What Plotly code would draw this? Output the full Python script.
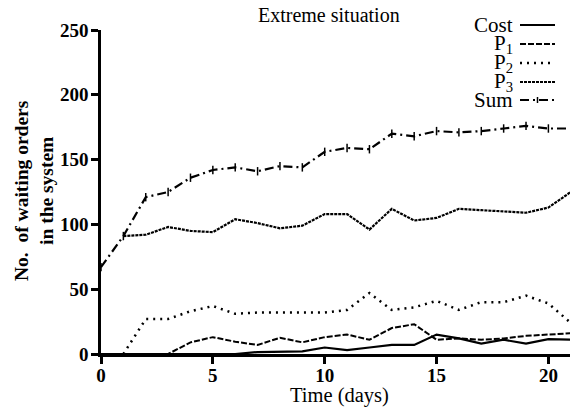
import plotly.graph_objects as go

days = list(range(22))
cost = [0, 0, 0, 0, 0, 0, 0, 1.5, 1.5, 2, 5, 3, 5, 7, 7, 15, 12, 8, 11, 8, 11.5, 11]
p1 = [0, 0, 0, 0, 9, 13, 9.5, 7, 12.5, 9, 13, 15, 11, 20, 23, 11, 12, 11, 12, 14, 15, 16]
p2 = [None, 0, 27, 27, 33, 37, 31, 32, 32, 32, 32, 34, 47, 34, 36, 41, 34, 40, 40, 45, 39, 24]
p3 = [None, 91, 92, 98, 95, 94, 104, 101, 97, 99, 108, 108, 96, 112, 103, 105, 112, 111, 110, 109, 113, 125]
total = [67, 91, 121, 125, 136, 142, 144, 141, 145, 144, 156, 159, 158, 170, 168, 172, 171, 172, 174, 176, 174, 174]

names = ["Cost", "P<sub>1</sub>", "P<sub>2</sub>", "P<sub>3</sub>", "Sum"]
series = [cost, p1, p2, p3, total]
dashes = ["solid", "6px,2px", "2px,5px", "3px,1px", "9px,4px,2px,4px"]
widths = [2.2, 2, 2.5, 2.2, 2.2]
x_ticks = [0, 5, 10, 15, 20]
y_ticks = [0, 50, 100, 150, 200, 250]

FONT = "Liberation Serif"
fig = go.Figure()
for name, vals, dash, w in zip(names, series, dashes, widths):
    mode = "lines+markers" if name == "Sum" else "lines"
    fig.add_trace(go.Scatter(
        x=days, y=vals, name=name, mode=mode,
        line=dict(color="black", width=w, dash=dash),
        marker=dict(symbol="line-ns", size=6, line=dict(color="black", width=1.5)),
        showlegend=False, connectgaps=False,
    ))

# page body has an 8px margin: figure is 570x405 so it fits the 578x413 window
FW, FH = 570, 405
L, R, T, B = 93, 5, 22, 59
W, H = FW - L - R, FH - T - B
OFF = 8
def px(xs):
    return (xs - OFF - L) / W
def py(ys):
    return (FH - B - (ys - OFF)) / H

row_y = [25, 44, 63, 82, 100]
for name, dash, w, yy in zip(names, dashes, widths, row_y):
    fig.add_annotation(x=px(515), y=py(yy), xref="paper", yref="paper", text=name,
                       showarrow=False, xanchor="right", yanchor="middle",
                       font=dict(family=FONT, size=21, color="black"))
    fig.add_shape(type="line", xref="paper", yref="paper",
                  x0=px(520), x1=px(555), y0=py(yy), y1=py(yy),
                  line=dict(color="black", width=w, dash=dash))
fig.add_shape(type="line", xref="paper", yref="paper",
              x0=px(537.5), x1=px(537.5), y0=py(row_y[-1] - 3), y1=py(row_y[-1] + 3),
              line=dict(color="black", width=1.5))

fig.add_annotation(x=px(329), y=py(15), xref="paper", yref="paper", text="Extreme situation",
                   showarrow=False, xanchor="center", yanchor="middle",
                   font=dict(family=FONT, size=20, color="black"))
fig.add_annotation(x=px(339), y=py(396), xref="paper", yref="paper", text="Time (days)",
                   showarrow=False, xanchor="center", yanchor="middle",
                   font=dict(family=FONT, size=20.5, color="black"))
fig.add_annotation(x=px(34), y=py(191), xref="paper", yref="paper",
                   text="<b>No.  of waiting orders<br>in the system</b>",
                   showarrow=False, xanchor="center", yanchor="middle", textangle=-90,
                   font=dict(family=FONT, size=19.5, color="black"))

fig.update_layout(
    width=FW, height=FH,
    margin=dict(l=L, r=R, t=T, b=B),
    paper_bgcolor="white", plot_bgcolor="white",
    font=dict(family=FONT, size=18, color="black"),
)
fig.update_xaxes(range=[0, 21.1], tickvals=x_ticks, ticktext=[f"<b>{v}</b>" for v in x_ticks],
                 showline=True, linecolor="black", linewidth=2.5,
                 ticks="outside", ticklen=7, tickwidth=2.5, tickcolor="black",
                 ticklabelstandoff=-5,
                 showgrid=False, zeroline=False, tickfont=dict(family=FONT, size=19))
fig.update_yaxes(range=[0, 250], tickvals=y_ticks, ticktext=[f"<b>{v}</b>" for v in y_ticks],
                 showline=True, linecolor="black", linewidth=2.5,
                 ticks="outside", ticklen=7, tickwidth=2.5, tickcolor="black",
                 ticklabelstandoff=-1,
                 showgrid=False, zeroline=False, tickfont=dict(family=FONT, size=19))

fig.write_html("out.html")
